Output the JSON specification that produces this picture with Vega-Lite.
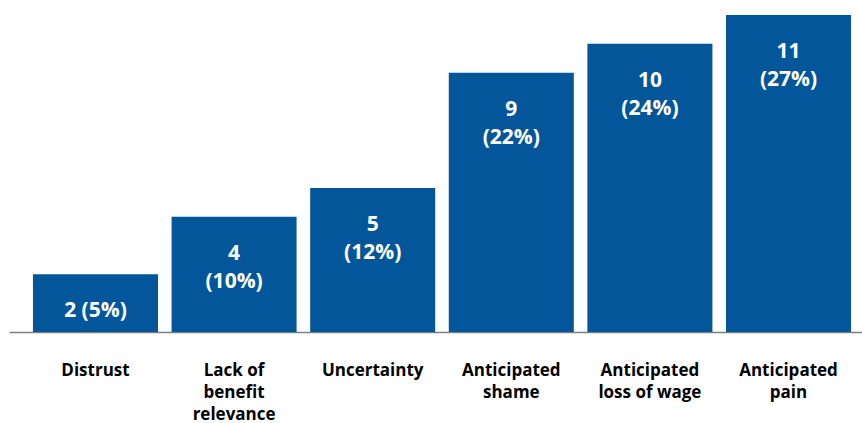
{
  "$schema": "https://vega.github.io/schema/vega-lite/v6.json",
  "width": 853,
  "height": 317,
  "autosize": {"type": "none"},
  "padding": {"left": 9, "top": 15, "right": 0, "bottom": 91},
  "background": "white",
  "config": {"view": {"stroke": null}, "font": "Open Sans"},
  "data": {
    "values": [
      {"category": "Distrust", "count": 2, "label": "2 (5%)"},
      {"category": "Lack of|benefit|relevance", "count": 4, "label": "4|(10%)"},
      {"category": "Uncertainty", "count": 5, "label": "5|(12%)"},
      {"category": "Anticipated|shame", "count": 9, "label": "9|(22%)"},
      {"category": "Anticipated|loss of wage", "count": 10, "label": "10|(24%)"},
      {"category": "Anticipated|pain", "count": 11, "label": "11|(27%)"}
    ]
  },
  "encoding": {
    "x": {
      "field": "category",
      "type": "nominal",
      "sort": null,
      "scale": {"paddingInner": 0.098, "paddingOuter": 0.126, "align": 0.686},
      "axis": {
        "title": null,
        "labelAngle": 0,
        "ticks": false,
        "domainColor": "#7f7f7f",
        "domainWidth": 1.5,
        "labelFont": "Open Sans",
        "labelFontWeight": "bold",
        "labelFontSize": 17,
        "labelColor": "#000000",
        "labelLineHeight": 22,
        "labelPadding": 30,
        "labelBaseline": "top",
        "labelExpr": "split(datum.label, '|')"
      }
    },
    "y": {
      "field": "count",
      "type": "quantitative",
      "scale": {"domain": [0, 11], "nice": false},
      "axis": null
    }
  },
  "layer": [
    {"mark": {"type": "bar", "color": "#03569A"}},
    {
      "mark": {
        "type": "text",
        "color": "white",
        "font": "Open Sans",
        "fontWeight": "bold",
        "fontSize": 21,
        "baseline": "alphabetic",
        "dy": 43,
        "lineHeight": 28,
        "lineBreak": "|"
      },
      "encoding": {"text": {"field": "label"}}
    }
  ]
}
